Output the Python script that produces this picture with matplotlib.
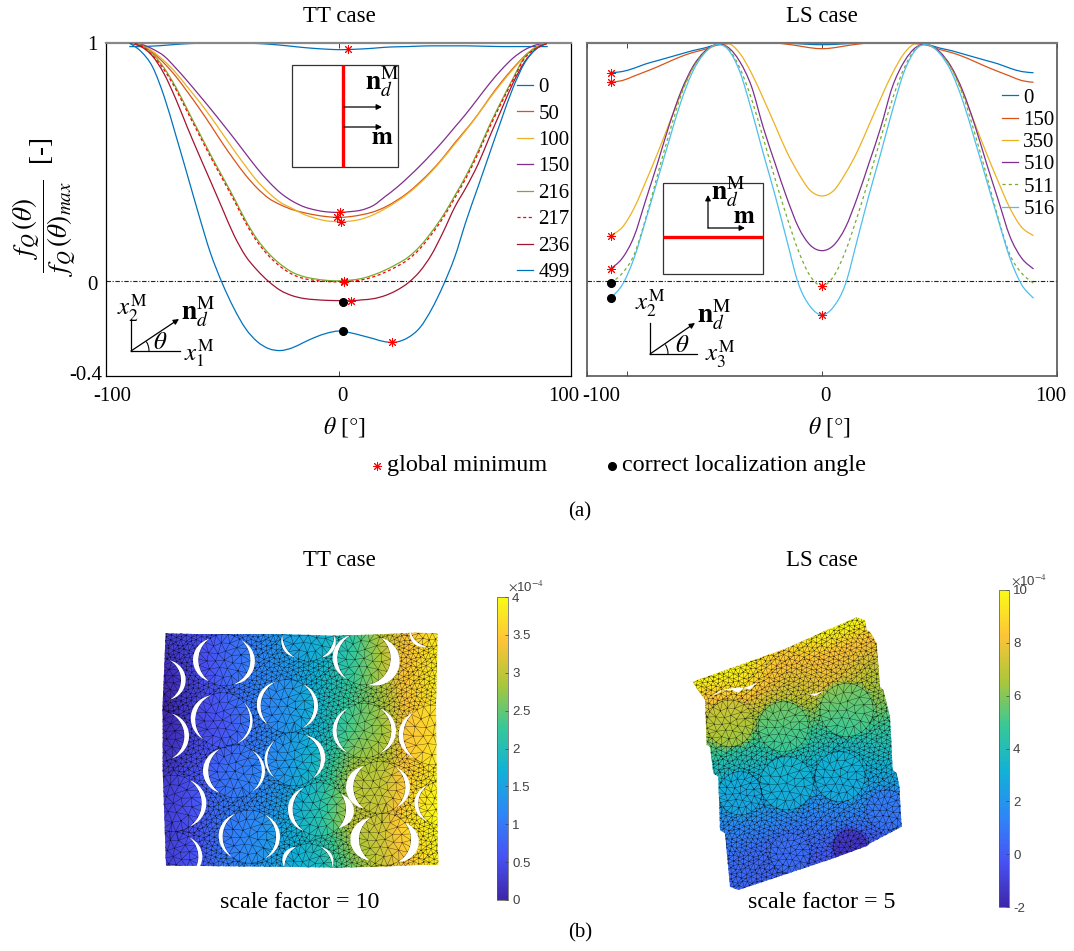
import matplotlib
matplotlib.use('Agg')
import matplotlib.pyplot as plt
import matplotlib.tri as mtri
import numpy as np
from matplotlib.colors import LinearSegmentedColormap, Normalize
from matplotlib.cm import ScalarMappable
from matplotlib.lines import Line2D
from matplotlib.path import Path
from matplotlib.patches import Arc, PathPatch, Rectangle, Polygon
from matplotlib.transforms import ScaledTranslation

plt.rcParams['font.family'] = ['Liberation Serif', 'DejaVu Serif']
plt.rcParams['mathtext.fontset'] = 'stix'

W, H = 1074, 951

theta = list(range(-90, 95, 5))

# TT case
tt_0 = [.985,.985,.987,.99,.994,.997,.999,1,1,1,.999,.998,.995,.991,.986,.981,.977,.974,.972,
        .973,.975,.978,.982,.984,.985,.987,.988,.988,.988,.988,.987,.986,.985,.985,.985,.985,.985]
tt_50 = [1,.99,.96,.915,.86,.795,.727,.655,.58,.51,.445,.39,.347,.32,.30,.287,.277,.27,.267,
         .27,.278,.29,.31,.338,.372,.415,.463,.518,.58,.638,.70,.77,.835,.893,.945,.983,1]
tt_100 = [1,.993,.965,.925,.875,.815,.755,.69,.62,.55,.483,.42,.37,.33,.305,.28,.263,.252,.249,
          .251,.26,.278,.303,.333,.368,.41,.459,.515,.575,.635,.70,.767,.83,.889,.943,.982,1]
tt_150 = [1,.995,.975,.945,.895,.84,.782,.723,.662,.60,.536,.473,.417,.37,.336,.312,.298,.29,.288,
          .291,.298,.317,.354,.392,.436,.483,.534,.588,.646,.704,.767,.83,.887,.936,.971,.992,1]
tt_216 = [1,.993,.955,.895,.815,.72,.625,.53,.44,.35,.255,.175,.115,.07,.037,.018,.008,.002,0,
          .003,.01,.025,.045,.07,.10,.145,.205,.275,.358,.445,.545,.655,.755,.85,.94,.98,1]
tt_217 = [1,.99,.948,.887,.806,.71,.615,.52,.43,.34,.245,.165,.105,.06,.028,.01,.002,-.003,-.004,
          -.002,.004,.017,.036,.06,.09,.135,.195,.265,.348,.435,.535,.645,.747,.843,.935,.978,1]
tt_236 = [1,.985,.945,.87,.765,.645,.53,.418,.305,.193,.105,.045,-.003,-.04,-.062,-.074,-.079,-.082,-.083,
          -.084,-.08,-.075,-.062,-.04,-.008,.04,.11,.205,.31,.395,.49,.606,.718,.83,.92,.975,1]
tt_499 = [1,.965,.90,.775,.613,.445,.275,.115,-.01,-.115,-.20,-.255,-.285,-.293,-.282,-.259,-.237,-.22,-.211,
          -.218,-.23,-.243,-.256,-.257,-.238,-.197,-.12,-.02,.10,.255,.395,.536,.676,.81,.915,.975,1]
tt_curves = [tt_0, tt_50, tt_100, tt_150, tt_216, tt_217, tt_236, tt_499]
tt_labels = ['0', '50', '100', '150', '216', '217', '236', '499']
tt_colors = ['#0072BD', '#D95319', '#EDB120', '#7E2F8E', '#77AC30', '#FF0000', '#A2142F', '#0072BD']
tt_min_x = [4.1, .6, -.5, 1.1, 2.2, 2.2, 5.4, 22.9]
tt_min_y = [.973, .288, .267, .249, .001, -.003, -.084, -.259]
tt_dot_x = [1.75, 1.75]
tt_dot_y = [-.087, -.21]

# LS case
ls_0 = [.875,.88,.894,.912,.926,.94,.954,.968,.979,.993,1,1,1,1,1,.999,.997,.994,.993,
        .994,.997,.999,1,1,1,1,1,.993,.979,.968,.954,.94,.926,.912,.894,.88,.875]
ls_150 = [.835,.842,.861,.88,.90,.922,.943,.96,.973,.99,.997,1,1,1,1,.995,.988,.98,.976,
          .98,.988,.995,1,1,1,1,.997,.99,.973,.96,.943,.922,.90,.88,.861,.842,.835]
ls_350 = [.19,.225,.305,.417,.536,.662,.788,.894,.96,.992,1,.957,.873,.767,.655,.543,.452,.38,.357,
          .38,.452,.543,.655,.767,.873,.957,1,.992,.96,.894,.788,.662,.536,.417,.305,.225,.19]
ls_510 = [.05,.095,.186,.34,.494,.655,.796,.90,.964,.993,.982,.922,.817,.645,.495,.35,.225,.15,.127,
          .15,.225,.35,.495,.645,.817,.922,.982,.993,.964,.90,.796,.655,.494,.34,.186,.095,.05]
ls_511 = [-.01,.032,.109,.263,.445,.62,.78,.894,.96,.993,.978,.895,.765,.60,.43,.27,.125,.02,-.021,
          .02,.125,.27,.43,.60,.765,.895,.978,.993,.96,.894,.78,.62,.445,.263,.109,.032,-.01]
ls_516 = [-.073,-.017,.095,.256,.424,.592,.754,.88,.957,.993,.973,.88,.718,.536,.361,.172,-.013,-.108,-.143,
          -.108,-.013,.172,.361,.536,.718,.88,.973,.993,.957,.88,.754,.592,.424,.256,.095,-.017,-.073]
ls_curves = [ls_0, ls_150, ls_350, ls_510, ls_511, ls_516]
ls_labels = ['0', '150', '350', '510', '511', '516']
ls_colors = ['#0072BD', '#D95319', '#EDB120', '#7E2F8E', '#77AC30', '#4DBEEE']
ls_min_x = [-90, -90, -90, -90, 0, 0]
ls_min_y = [.875, .835, .19, .05, -.021, -.143]
ls_dot_x = [-90, -90]
ls_dot_y = [-.01, -.073]

# displacement fields (x 1e-4)
tt_grid_x = [70, 170, 250, 350, 440, 540, 640, 730, 800, 895]
tt_grid_y = [190, 330, 480, 620, 760, 890]
tt_field = [[.3, .5, .75, 1.1, 1.5, 1.7, 2.2, 3.0, 3.4, 3.8],
            [0, .4, .75, 1.1, 1.3, 1.8, 2.3, 2.9, 3.5, 3.9],
            [0, .4, .6, 1.0, 1.35, 1.8, 2.45, 2.8, 3.4, 3.7],
            [.25, .6, .9, 1.1, 1.4, 2.0, 2.9, 3.0, 3.5, 3.9],
            [.3, .6, .95, 1.2, 1.6, 2.1, 3.0, 3.1, 3.7, 4.0],
            [.3, .6, 1.0, 1.3, 1.6, 1.9, 2.6, 3.1, 3.4, 3.9]]
ls_grid_u = [0, .25, .5, .75, 1]
ls_grid_v = [0, .15, .3, .45, .6, .75, .9, 1]
ls_field = [[.4, .3, 0, -.2, .7],
            [.6, .6, .9, 1.5, 1.8],
            [1.5, 2.0, 2.1, 2.5, 3.3],
            [2.7, 2.9, 3.4, 3.5, 4.5],
            [4.0, 4.3, 5.0, 5.0, 6.0],
            [6.5, 6.5, 6.8, 7.8, 7.0],
            [7.8, 9.2, 8.0, 8.3, 8.3],
            [9.8, 9.9, 8.6, 9.8, 10]]

# inclusions: centre x, centre y, radius
tt_circles = [(253,270,78),(442,408,80),(248,450,82),(462,568,80),(285,603,80),(672,265,80),
              (672,482,82),(538,718,80),(718,652,78),(328,800,80),(735,808,78),(505,195,78),
              (505,893,72),(55,330,68),(55,498,78),(100,700,85),(100,860,75),(880,495,90),
              (900,700,65),(870,170,60)]
# debonded gaps: circle index, direction, half span, width
tt_gaps = [(0,180,55,16),(0,10,60,14),(1,190,55,12),(1,0,55,12),(2,190,55,14),(2,10,50,8),
           (3,180,45,8),(3,-10,55,14),(4,180,55,16),(4,0,50,10),(5,185,55,14),(6,180,55,12),
           (6,0,55,14),(7,180,55,14),(7,5,40,24),(8,180,55,22),(8,0,50,14),(9,185,55,12),
           (9,0,55,12),(10,180,55,26),(10,10,50,24),(11,150,30,8),(11,30,30,10),(12,210,30,12),
           (12,-30,30,8),(13,0,60,14),(14,0,60,14),(15,0,55,14),(16,0,50,12),(17,180,50,14),
           (18,180,55,12),(19,135,35,10),(5,15,65,28)]
tt_outline = [(77,190),(165,192),(415,192),(585,197),(720,193),(820,188),(893,190),(888,400),
              (890,630),(895,885),(835,885),(720,890),(585,893),(415,890),(78,887),(68,600),(68,400)]

ls_circles = [(180,460,70),(340,470,75),(530,420,80),(350,640,80),(510,620,75),(210,670,65),
              (650,720,60),(360,850,60),(540,830,50)]
ls_circle_vals = [6.8, 5.3, 5.4, 3.1, 3.0, 2.8, 1.0, .6, -1.3]
ls_outline = [(205,960),(180,950),(165,790),(150,780),(145,620),(130,610),(120,530),(110,525),
              (105,390),(80,355),(68,335),(350,235),(460,185),(560,142),(585,150),(590,180),
              (600,185),(620,220),(630,350),(640,360),(660,440),(668,600),(680,610),(688,650),
              (695,770),(600,820),(590,828),(490,865)]
ls_gaps = [[(115,385),(150,362),(185,360),(205,368),(225,352),(260,340),(240,358),(205,352),(165,358)],
           [(405,372),(435,378),(465,362),(445,368),(420,374)]]

parula = LinearSegmentedColormap.from_list('parula', [
    (.2422,.1504,.6603),(.2810,.3228,.9579),(.1786,.5289,.9682),(.0689,.6948,.8394),
    (.2161,.7843,.5923),(.6720,.7793,.2227),(.9970,.7659,.2199),(.9769,.9839,.0805)])

fig = plt.figure(figsize=(W/100, H/100), dpi=100)


def add_px_axes(x0, y0, x1, y1):
    return fig.add_axes([x0/W, 1-y1/H, (x1-x0)/W, (y1-y0)/H])


def nudge(label, dx, dy=0):
    label.set_transform(label.get_transform() + ScaledTranslation(dx/100, dy/100, fig.dpi_scale_trans))


def style_axes(ax, color, lw, top_color, top_lw):
    ax.set_xlim(-100, 100)
    ax.set_ylim(-.4, 1)
    for s in ax.spines.values():
        s.set_color(color)
        s.set_linewidth(lw)
    ax.spines['top'].set_color(top_color)
    ax.spines['top'].set_linewidth(top_lw)
    ax.axhline(0, color='#222222', lw=.8, ls=(0, (4, 1.5, 1, 1.5)), zorder=1)
    ax.tick_params(direction='in', length=3.5, width=.7, top=True, labelsize=15, color='#444444', pad=8)


def smooth_line(ax, xs, ys, color, ls, zorder):
    # the values are the knots, the bezier handles only round the joints
    pts = np.column_stack([xs, ys]).astype(float)
    before = np.vstack([pts[0], pts[:-1]])
    after = np.vstack([pts[1:], pts[-1]])
    tang = (after-before)/6
    verts = [pts[0]]
    codes = [Path.MOVETO]
    for i in range(len(pts)-1):
        verts += [pts[i]+tang[i], pts[i+1]-tang[i+1], pts[i+1]]
        codes += [Path.CURVE4]*3
    ax.add_patch(PathPatch(Path(verts, codes), fill=False, ec=color, lw=.9, ls=ls, zorder=zorder))
    return Line2D([], [], color=color, lw=.9, ls=ls)


# (a) curves
ax1 = add_px_axes(106, 43, 571, 376)
style_axes(ax1, 'black', .9, '#888888', 1.6)
tt_handles = []
for y, lab, c in zip(tt_curves, tt_labels, tt_colors):
    if lab == '217':
        tt_handles.append(smooth_line(ax1, theta, y, c, (0, (2.5, 2)), 3))
    else:
        tt_handles.append(smooth_line(ax1, theta, y, c, '-', 2))
ax1.plot(tt_min_x, tt_min_y, ls='', marker=(8, 2, 0), ms=6.5, mew=.7, color='#FF0000', zorder=5)
ax1.plot(tt_dot_x, tt_dot_y, ls='', marker='o', ms=5.5, color='black', zorder=4)
ax1.set_xticks([-100, 0, 100])
ax1.set_xticklabels(['-100', '0', '100'])
ax1.set_yticks([-.4, 0, 1])
ax1.set_yticklabels(['-0.4', '0', '1'])
ax1.tick_params(axis='y', length=0, pad=6)
for lab, dx in zip(ax1.get_xticklabels(), [6, 4, -7]):
    nudge(lab, dx)
for lab, dx, dy in zip(ax1.get_yticklabels(), [5, 0, 0], [3, -2, 0]):
    nudge(lab, dx, dy)

ax2 = add_px_axes(587, 43, 1057, 376)
style_axes(ax2, '#555555', 1.2, '#777777', 1.6)
ls_handles = []
for y, lab, c in zip(ls_curves, ls_labels, ls_colors):
    if lab == '511':
        ls_handles.append(smooth_line(ax2, theta, y, c, (0, (2.5, 2.5)), 2))
    else:
        ls_handles.append(smooth_line(ax2, theta, y, c, '-', 2))
ax2.plot(ls_min_x, ls_min_y, ls='', marker=(8, 2, 0), ms=6.5, mew=.7, color='#FF0000', zorder=5)
ax2.plot(ls_dot_x, ls_dot_y, ls='', marker='o', ms=5.5, color='black', zorder=4)
ax2.set_xticks([-100, -83, 0, 100])
ax2.set_xticklabels(['-100', '', '0', '100'])
ax2.set_yticks([])
for lab, dx in zip(ax2.get_xticklabels(), [14, 0, 3, -6]):
    nudge(lab, dx)

# overlay in picture pixels for annotations and the meshes
ov = fig.add_axes([0, 0, 1, 1], zorder=10)
ov.set_xlim(0, W)
ov.set_ylim(H, 0)
ov.axis('off')
ov.patch.set_alpha(0)

leg_kw = dict(frameon=False, fontsize=15, borderpad=0, borderaxespad=0, handlelength=.77,
              handletextpad=.25, bbox_transform=ov.transData, loc='upper left')
ax1.legend(tt_handles, tt_labels, bbox_to_anchor=(517, 77.5), labelspacing=.33, **leg_kw)
ax2.legend(ls_handles, ls_labels, bbox_to_anchor=(1002, 88), labelspacing=.13, **leg_kw)


def label(x, y, s, size=16.5, **kw):
    ov.text(x, y, s, fontsize=size, ha=kw.pop('ha', 'center'), va=kw.pop('va', 'center'), **kw)


def arrow(x0, y0, x1, y1):
    ov.annotate('', xy=(x1, y1), xytext=(x0, y0),
                arrowprops=dict(arrowstyle='-|>', lw=.9, color='black', shrinkA=0, shrinkB=0, mutation_scale=8))


def axes_sketch(ox, oy, xend, ytop, ax_, ay_, xname, lx, ly, nx, ny, tx, ty, xlx, xly):
    ov.plot([ox, xend], [oy, oy], color='black', lw=.9)
    ov.plot([ox, ox], [oy, ytop], color='black', lw=.9)
    arrow(ox, oy, ax_, ay_)
    ov.add_patch(Arc((ox, oy), 36, 36, theta1=-32, theta2=0, color='black', lw=.8))
    label(lx, ly, r'$x_2^{\mathrm{M}}$', 18)
    label(nx, ny, r'$\mathbf{n}_d^{\mathrm{M}}$', 20)
    label(tx, ty, r'$\theta$', 18)
    label(xlx, xly, xname, 18)


# insets
ov.add_patch(Rectangle((291.5, 65), 106.5, 102, fill=False, ec='#333333', lw=.9))
ov.plot([342.6, 342.6], [65, 167], color='#FF0000', lw=2.4, solid_capstyle='butt')
arrow(344, 107, 382, 107)
arrow(344, 127, 382, 127)
label(382, 82, r'$\mathbf{n}_d^{\mathrm{M}}$', 20)
label(382, 138, r'$\mathbf{m}$', 18)
ov.add_patch(Rectangle((663, 183), 100, 91, fill=False, ec='#333333', lw=.9))
ov.plot([663, 763], [237, 237], color='#FF0000', lw=2.4, solid_capstyle='butt')
arrow(708, 228, 745, 228)
arrow(708, 228, 708, 195)
label(728, 192, r'$\mathbf{n}_d^{\mathrm{M}}$', 20)
label(744, 217, r'$\mathbf{m}$', 18)
axes_sketch(131, 351, 180, 319, 179, 319, r'$x_1^{\mathrm{M}}$', 132, 308, 198, 312, 160, 343, 199, 353)
axes_sketch(650, 354, 697, 323, 695, 323, r'$x_3^{\mathrm{M}}$', 650, 303, 714, 315, 682, 346, 720, 354)

# texts
label(339, 16, 'TT case')
label(822, 16, 'LS case')
label(344, 427, r'$\theta$ [$\degree$]', 17)
label(829, 427, r'$\theta$ [$\degree$]', 17)
label(44, 207, r'$\dfrac{f_Q\,(\theta)}{f_Q\,(\theta)_{max}}$  [-]', 19.5, rotation=90)
ov.plot([377], [466], ls='', marker=(8, 2, 0), ms=6.5, mew=.7, color='#FF0000')
label(387, 465, 'global minimum', 17.4, ha='left')
ov.plot([612], [466], ls='', marker='o', ms=5.5, color='black')
label(622, 465, 'correct localization angle', 17.4, ha='left')
label(580, 512, '(a)', 15)
label(339, 561, 'TT case')
label(822, 561, 'LS case')
label(300, 903, 'scale factor = 10', 17.3)
label(822, 903, 'scale factor = 5', 17.3)
label(580, 933, '(b)', 15)


def lookup(px, py, gx, gy, table):
    table = np.array(table, dtype=float)
    rows = np.array([np.interp(px, gx, row) for row in table])
    out = np.zeros(len(px))
    for i in range(len(px)):
        out[i] = np.interp(py[i], gy, rows[:, i])
    return out


def mesh_nodes(circles, outline, step):
    poly = np.array(outline, dtype=float)
    xs = np.arange(poly[:, 0].min()-step, poly[:, 0].max()+step, step)
    ys = np.arange(poly[:, 1].min()-step, poly[:, 1].max()+step, step*.87)
    gx, gy = np.meshgrid(xs, ys)
    gx[1::2] += step/2
    # unstructured look for the free mesh
    gx = gx + .28*step*np.sin(.31*gy + .83*gx)
    gy = gy + .28*step*np.sin(.57*gx - .37*gy)
    px, py = gx.ravel(), gy.ravel()
    keep = np.ones(len(px), dtype=bool)
    for cx, cy, r in circles:
        keep &= np.hypot(px-cx, py-cy) > r*1.03
    px, py = px[keep], py[keep]
    nx, ny = [px], [py]
    for cx, cy, r in circles:
        for frac, n in [(0, 1), (.34, 7), (.67, 13), (1, 26)]:
            a = np.linspace(0, 2*np.pi, n, endpoint=False) + frac
            nx.append(cx + frac*r*np.cos(a))
            ny.append(cy + frac*r*np.sin(a))
    return np.concatenate(nx), np.concatenate(ny)


def draw_mesh(nx, ny, vals, outline, to_px, vmin, vmax):
    X, Y = to_px(nx, ny)
    tri = mtri.Triangulation(X, Y)
    ox, oy = to_px(*np.array(outline, dtype=float).T)
    clip = Path(np.column_stack([np.r_[ox, ox[0]], np.r_[oy, oy[0]]]), closed=True)
    tc = ov.tripcolor(tri, vals, shading='gouraud', cmap=parula, vmin=vmin, vmax=vmax, zorder=2)
    tc.set_clip_path(clip, ov.transData)
    lines = ov.triplot(tri, color='#000000', lw=.3, alpha=.7, zorder=3)
    for ln in lines:
        ln.set_clip_path(clip, ov.transData)


def tt_px(x, y):
    return 140+np.asarray(x)/3, 570+np.asarray(y)/3


def ls_px(x, y):
    return 670+np.asarray(x)/3, 570+np.asarray(y)/3


# TT mesh
nx, ny = mesh_nodes(tt_circles, tt_outline, 15)
vals = lookup(nx, ny, tt_grid_x, tt_grid_y, tt_field)
draw_mesh(nx, ny, vals, tt_outline, tt_px, 0, 4)
for ci, mid, span, width in tt_gaps:
    cx, cy, r = tt_circles[ci]
    a = np.radians(np.linspace(mid-span, mid+span, 40))
    t = np.linspace(0, np.pi, 40)
    xin, yin = cx+r*np.cos(a), cy+r*np.sin(a)
    xout = cx+(r+width*np.sin(t))*np.cos(a)
    yout = cy+(r+width*np.sin(t))*np.sin(a)
    px_, py_ = tt_px(np.r_[xin, xout[::-1]], np.r_[yin, yout[::-1]])
    ov.add_patch(Polygon(np.column_stack([px_, py_]), fc='white', ec='none', zorder=4))

# LS mesh
nx, ny = mesh_nodes(ls_circles, ls_outline, 15)
# skew coordinates along the bottom edge and up the side of the tilted block
det = 490*(-620)-(-122)*(-190)
dx, dy = nx-205, ny-960
u = (dx*(-620)-(-122)*dy)/det
v = (490*dy-(-190)*dx)/det
vals = lookup(u, v, ls_grid_u, ls_grid_v, ls_field)
for (cx, cy, r), val in zip(ls_circles, ls_circle_vals):
    inside = np.hypot(nx-cx, ny-cy) <= r*1.01
    vals[inside] = val + (vals[inside]-vals[inside].mean())*.35
draw_mesh(nx, ny, vals, ls_outline, ls_px, -2, 10)
for gap in ls_gaps:
    wx, wy = ls_px(*np.array(gap, dtype=float).T)
    ov.add_patch(Polygon(np.column_stack([wx, wy]), fc='white', ec='none', zorder=4))

# colorbars
for box, lim, ticks, ticklabs, tx, ty in [
        ((497, 597, 508, 900), (0, 4), [0, .5, 1, 1.5, 2, 2.5, 3, 3.5, 4],
         ['0', '0.5', '1', '1.5', '2', '2.5', '3', '3.5', '4'], 508, 586),
        ((999, 590, 1009, 907), (-2, 10), [-2, 0, 2, 4, 6, 8, 10],
         ['-2', '0', '2', '4', '6', '8', '10'], 1011, 580)]:
    cax = add_px_axes(*box)
    sm = ScalarMappable(norm=Normalize(*lim), cmap=parula)
    cb = fig.colorbar(sm, cax=cax)
    cb.set_ticks(ticks)
    cb.set_ticklabels(ticklabs, fontfamily='Liberation Sans', fontsize=9.5, color='#404040')
    cb.ax.tick_params(direction='in', length=2.5, width=.5, color='#404040', pad=3)
    cb.outline.set_edgecolor('#555555')
    cb.outline.set_linewidth(.5)
    ov.text(tx, ty, r'$\times$10$^{-4}$', fontsize=9.5, color='#404040', family='Liberation Sans',
            ha='left', va='center')

fig.savefig('out.png', dpi=100)
